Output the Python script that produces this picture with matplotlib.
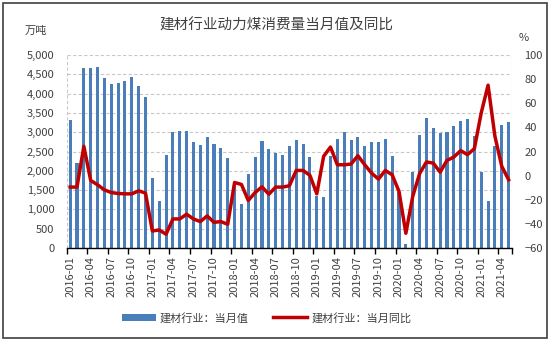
import matplotlib.pyplot as plt
from matplotlib.patches import Rectangle
from matplotlib.ticker import FuncFormatter, FixedLocator

plt.rcParams['font.family'] = ['Noto Sans CJK SC', 'DejaVu Sans']

# monthly data, 2016-01 .. 2021-05
months = []
for y in range(2016, 2022):
    for m in range(1, 13):
        if y == 2021 and m > 5:
            break
        months.append("%d-%02d" % (y, m))

# consumption, 10k tonnes
volume = [3320, 2200, 4670, 4670, 4700, 4410, 4255, 4265, 4315, 4430, 4185, 3910,
          1810, 1220, 2400, 3000, 3040, 3025, 2750, 2680, 2880, 2705, 2580, 2330,
          1650, 1145, 1925, 2350, 2765, 2555, 2460, 2410, 2645, 2810, 2695, 2355,
          1350, 1315, 2375, 2825, 3015, 2800, 2880, 2650, 2755, 2740, 2825, 2375,
          1450, 100, 1975, 2940, 3360, 3110, 2980, 3005, 3170, 3300, 3330, 2910,
          1975, 1205, 2650, 3190, 3275]

# year-on-year, %
yoy = [-9.5, -9.5, 24.3, -4.0, -7.6, -11.8, -14.0, -14.8, -15.1, -15.1, -12.6, -14.5,
       -45.9, -45.0, -48.6, -35.9, -35.9, -32.0, -35.9, -38.1, -33.4, -38.7, -38.1, -40.3,
       -5.7, -7.3, -20.6, -14.0, -9.3, -15.4, -9.5, -9.5, -8.4, 4.3, 4.3, 0.2,
       -15.1, 16.0, 23.7, 9.0, 9.0, 9.6, 16.5, 9.0, 2.1, -2.9, 4.3, 0.7,
       -13.1, -47.8, -17.3, 1.6, 11.3, 10.4, 2.9, 12.6, 15.4, 20.7, 17.4, 22.4,
       52.0, 75.0, 32.6, 7.7, -3.4]

x = list(range(len(months)))
text_col = '#404040'
grid_col = '#c8c8c8'

fig = plt.figure(figsize=(5.5, 3.41), dpi=100)
ax = fig.add_axes([0.1213, 0.2727, 0.8097, 0.566])
ax2 = ax.twinx()

bars = ax.bar(x, volume, width=0.45, color='#4a7ebb', zorder=2)
line, = ax2.plot(x, yoy, color='#c00000', lw=2.5, zorder=3)

ax.set_xlim(-0.5, len(months) - 0.5)
ax.set_ylim(0, 5000)
ax.set_yticks(range(0, 5001, 500))
ax.yaxis.set_major_formatter(FuncFormatter(lambda v, p: '{:,.0f}'.format(v)))
ax2.set_ylim(-60, 100)
ax2.set_yticks(range(-60, 101, 20))

ax.grid(axis='y', color=grid_col, ls=(0, (3, 2)), lw=0.8, zorder=0)
ax.set_axisbelow(True)

for a in (ax, ax2):
    for s in ('top', 'left', 'right', 'bottom'):
        a.spines[s].set_visible(False)
ax.spines['bottom'].set_visible(True)
ax.spines['bottom'].set_color('#000000')
ax.spines['bottom'].set_linewidth(1.0)
ax.axvline(-0.5, color=grid_col, ls=(0, (3, 2)), lw=0.8, zorder=0)
ax.axvline(len(months) - 0.5, color=grid_col, ls=(0, (3, 2)), lw=0.8, zorder=0)

# labels every third month, tick marks on category borders
lab_pos = x[::3]
ax.set_xticks(lab_pos)
ax.set_xticklabels([months[i] for i in lab_pos], rotation=90, fontsize=8, color=text_col)
ax.tick_params(axis='x', length=0, pad=6)
ax.xaxis.set_minor_locator(FixedLocator([i - 0.5 for i in lab_pos] + [len(months) - 0.5]))
ax.tick_params(axis='x', which='minor', length=4, width=1, color='#000000', direction='out')

ax.tick_params(axis='y', length=0, pad=9, labelsize=8, labelcolor=text_col)
ax2.tick_params(axis='y', length=0, pad=9, labelsize=8, labelcolor=text_col)

fig.text(0.503, 0.925, '建材行业动力煤消费量当月值及同比', ha='center', va='center',
         fontsize=10.5, color=text_col)
fig.text(0.065, 0.91, '万吨', ha='center', va='center', fontsize=8, color=text_col)
fig.text(0.952, 0.89, '%', ha='center', va='center', fontsize=8, color=text_col)

fig.legend([bars, line], ['建材行业：当月值', '建材行业：当月同比'], loc='center',
           bbox_to_anchor=(0.485, 0.068), ncol=2, frameon=False, fontsize=8,
           labelcolor=text_col, handlelength=3.0, columnspacing=2.2, handletextpad=0.4)

fig.add_artist(Rectangle((0.006, 0.009), 0.988, 0.982, transform=fig.transFigure,
                         fill=False, edgecolor='#404040', lw=1.2))

fig.savefig('out.png', dpi=100)
